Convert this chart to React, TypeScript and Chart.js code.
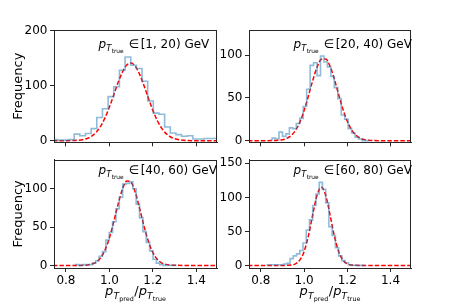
import React, { useEffect, useRef } from "react";
import { Chart, registerables } from "chart.js";

Chart.register(...registerables);

// ---------- data ----------
const X_MIN = 0.745;
const X_MAX = 1.495;
const xTickValues = [0.8, 1.0, 1.2, 1.4];

// sample positions of the Gaussian fit curves
const fitX = [0.74, 0.8, 0.85, 0.9, 0.92, 0.94, 0.96, 0.98, 1.0, 1.02, 1.04, 1.06, 1.08, 1.1,
  1.12, 1.14, 1.16, 1.18, 1.2, 1.22, 1.24, 1.26, 1.28, 1.3, 1.35, 1.4, 1.45, 1.5];

// panel 1: pT_true in [1, 20) GeV
const p1Range = "[1, 20) GeV";
const p1BinStart = 0.734;
const p1BinWidth = 0.026;
const p1Counts = [2, 1, 1, 2, 12, 9, 13, 22, 42, 58, 80, 98, 128, 152, 137, 131, 108, 72, 50, 48,
  25, 14, 11, 8, 9, 3, 3, 4, 4, 4];
const p1Fit = [0, 0.1, 0.6, 4.5, 8.7, 15.8, 26.6, 41.8, 61.1, 83.2, 105.6, 124.8, 137.4, 140.9,
  134.5, 119.6, 99.1, 76.4, 54.9, 36.7, 22.9, 13.3, 7.2, 3.6, 0.5, 0, 0, 0];
const p1YTicks = [0, 100, 200];
const p1YLim = [-2.9, 201];

// panel 2: pT_true in [20, 40) GeV
const p2Range = "[20, 40) GeV";
const p2BinStart = 0.852;
const p2BinWidth = 0.016;
const p2Counts = [3, 2, 10, 5, 8, 15, 14, 20, 26, 40, 60, 88, 91, 76, 99, 92, 86, 75, 62, 49,
  30, 25, 14, 9, 4, 2, 0, 0];
const p2Fit = [0, 0, 0.1, 1.1, 2.7, 6.0, 11.9, 21.4, 35.1, 52.2, 70.2, 85.8, 95.1, 95.5, 87.1,
  72.0, 54.0, 36.7, 22.6, 12.7, 6.4, 3.0, 1.2, 0.5, 0, 0, 0, 0];
const p2YTicks = [0, 50, 100];
const p2YLim = [-1.9, 129.3];

// panel 3: pT_true in [40, 60) GeV
const p3Range = "[40, 60) GeV";
const p3BinStart = 0.844;
const p3BinWidth = 0.0155;
const p3Counts = [1, 0, 1, 1, 1, 3, 6, 12, 18, 33, 43, 57, 74, 89, 106, 107, 109, 100, 80, 62,
  44, 30, 19, 8, 3, 1, 0, 0, 0, 0];
const p3Fit = [0, 0, 0, 0.6, 1.8, 4.5, 10.1, 20.2, 36.0, 57.0, 79.9, 99.6, 110.2, 108.2, 94.4,
  73.1, 50.3, 30.7, 16.6, 8.0, 3.4, 1.3, 0.4, 0.1, 0, 0, 0, 0];
const p3YTicks = [0, 50, 100];
const p3YLim = [-3.4, 137.9];

// panel 4: pT_true in [60, 80) GeV
const p4Range = "[60, 80) GeV";
const p4BinStart = 0.83;
const p4BinWidth = 0.015;
const p4Counts = [1, 1, 1, 1, 1, 2, 3, 10, 14, 17, 22, 33, 52, 67, 88, 105, 122, 112, 92, 57,
  44, 26, 14, 7, 4, 1, 0, 0, 0, 0];
const p4Fit = [0, 0, 0, 0, 0.1, 0.6, 2.3, 7.7, 20.4, 43.4, 74.6, 103.2, 115, 103.2, 74.6, 43.4,
  20.4, 7.7, 2.3, 0.6, 0.1, 0, 0, 0, 0, 0, 0, 0];
const p4YTicks = [0, 50, 100, 150];
const p4YLim = [-3.8, 155.4];

const yTitle = "Frequency";

// ---------- layout ----------
type Box = { left: number; top: number; right: number; bottom: number };
type PanelCfg = {
  range: string;
  binStart: number;
  binWidth: number;
  counts: number[];
  fit: number[];
  yTicks: number[];
  yLim: number[];
  canvas: { left: number; top: number; w: number; h: number };
  area: Box;
  showXLabels: boolean;
  showYTitle: boolean;
  textDy: number;
};

const panels: PanelCfg[] = [
  {
    range: p1Range, binStart: p1BinStart, binWidth: p1BinWidth, counts: p1Counts, fit: p1Fit,
    yTicks: p1YTicks, yLim: p1YLim,
    canvas: { left: 0, top: 0, w: 230, h: 152 },
    area: { left: 54, top: 30, right: 217, bottom: 143 },
    showXLabels: false, showYTitle: true, textDy: 18,
  },
  {
    range: p2Range, binStart: p2BinStart, binWidth: p2BinWidth, counts: p2Counts, fit: p2Fit,
    yTicks: p2YTicks, yLim: p2YLim,
    canvas: { left: 215, top: 0, w: 242, h: 152 },
    area: { left: 249, top: 30, right: 411, bottom: 143 },
    showXLabels: false, showYTitle: false, textDy: 18,
  },
  {
    range: p3Range, binStart: p3BinStart, binWidth: p3BinWidth, counts: p3Counts, fit: p3Fit,
    yTicks: p3YTicks, yLim: p3YLim,
    canvas: { left: 0, top: 150, w: 230, h: 155 },
    area: { left: 54, top: 159, right: 217, bottom: 268 },
    showXLabels: true, showYTitle: true, textDy: 14.5,
  },
  {
    range: p4Range, binStart: p4BinStart, binWidth: p4BinWidth, counts: p4Counts, fit: p4Fit,
    yTicks: p4YTicks, yLim: p4YLim,
    canvas: { left: 215, top: 150, w: 242, h: 155 },
    area: { left: 249, top: 159, right: 411, bottom: 268 },
    showXLabels: true, showYTitle: false, textDy: 14.5,
  },
];

const FONT = "'DejaVu Sans'";
const AXIS_COLOR = "#262626";

type Seg = { t: string; font: string; dy: number; dx: number };

function drawSegs(ctx: CanvasRenderingContext2D, x: number, y: number, segs: Seg[]) {
  let cx = x;
  for (const s of segs) {
    cx += s.dx;
    ctx.font = s.font;
    ctx.fillText(s.t, cx, y + s.dy);
    cx += ctx.measureText(s.t).width;
  }
  return cx;
}
function measureSegs(ctx: CanvasRenderingContext2D, segs: Seg[]) {
  let w = 0;
  for (const s of segs) {
    ctx.font = s.font;
    w += s.dx + ctx.measureText(s.t).width;
  }
  return w;
}

function Panel({ cfg }: { cfg: PanelCfg }) {
  const ref = useRef<HTMLCanvasElement>(null);
  useEffect(() => {
    if (!ref.current) return;
    const n = cfg.counts.length;
    const histPts: { x: number; y: number }[] = [{ x: cfg.binStart, y: 0 }];
    cfg.counts.forEach((c, i) => histPts.push({ x: cfg.binStart + i * cfg.binWidth, y: c }));
    histPts.push({ x: cfg.binStart + n * cfg.binWidth, y: cfg.counts[n - 1] });
    histPts.push({ x: cfg.binStart + n * cfg.binWidth, y: 0 });
    const fitPts = fitX.map((x, i) => ({ x, y: cfg.fit[i] }));

    const yAxisW = cfg.area.left - cfg.canvas.left;
    const padTop = cfg.area.top - cfg.canvas.top;
    const padRight = cfg.canvas.left + cfg.canvas.w - cfg.area.right;
    const xAxisH = cfg.canvas.top + cfg.canvas.h - cfg.area.bottom;

    const decor = {
      id: "decor",
      afterDraw(chart: any) {
        const ctx: CanvasRenderingContext2D = chart.ctx;
        const a = chart.chartArea;
        ctx.save();
        ctx.strokeStyle = AXIS_COLOR;
        ctx.lineWidth = 1;
        ctx.strokeRect(Math.round(a.left) + 0.5, Math.round(a.top) + 0.5,
          Math.round(a.right - a.left) - 1, Math.round(a.bottom - a.top));
        ctx.fillStyle = "#000";
        ctx.textBaseline = "alphabetic";
        ctx.textAlign = "left";
        const segs: Seg[] = [
          { t: "p", font: `italic 12px ${FONT}`, dy: 0, dx: 0 },
          { t: "T", font: `italic 8.4px ${FONT}`, dy: 2.7, dx: 0.2 },
          { t: "true", font: `5.9px ${FONT}`, dy: 4.5, dx: 0.2 },
          { t: "\u2208", font: `12px ${FONT}`, dy: 0, dx: 5 },
          { t: cfg.range, font: `12px ${FONT}`, dy: 0, dx: 1.5 },
        ];
        drawSegs(ctx, a.left + 44.5, a.top + cfg.textDy, segs);
        if (cfg.showYTitle) {
          ctx.save();
          ctx.translate(18.5, (a.top + a.bottom) / 2);
          ctx.rotate(-Math.PI / 2);
          ctx.font = `13px ${FONT}`;
          ctx.textAlign = "center";
          ctx.textBaseline = "middle";
          ctx.fillText(yTitle, 0, 0);
          ctx.restore();
        }
        if (cfg.showXLabels) {
          const xs: Seg[] = [
            { t: "p", font: `italic 13px ${FONT}`, dy: 0, dx: 0 },
            { t: "T", font: `italic 9.1px ${FONT}`, dy: 3.5, dx: 0.2 },
            { t: "pred", font: `6.4px ${FONT}`, dy: 5.5, dx: 0.2 },
            { t: "/", font: `13px ${FONT}`, dy: 0, dx: 0.5 },
            { t: "p", font: `italic 13px ${FONT}`, dy: 0, dx: 0 },
            { t: "T", font: `italic 9.1px ${FONT}`, dy: 3.5, dx: 0.2 },
            { t: "true", font: `6.4px ${FONT}`, dy: 5.5, dx: 0.2 },
          ];
          const w = measureSegs(ctx, xs);
          drawSegs(ctx, (a.left + a.right) / 2 - w / 2, 295 - cfg.canvas.top, xs);
        }
        ctx.restore();
      },
    };

    const chart = new Chart(ref.current, {
      type: "line",
      data: {
        datasets: [
          {
            data: histPts,
            borderColor: "rgba(31,119,180,0.5)",
            borderWidth: 1.6,
            stepped: true,
            pointRadius: 0,
            fill: false,
          },
          {
            data: fitPts,
            borderColor: "#ff0000",
            borderWidth: 1.5,
            borderDash: [4.5, 2],
            cubicInterpolationMode: "monotone",
            pointRadius: 0,
            fill: false,
          },
        ],
      } as any,
      options: {
        responsive: false,
        animation: false,
        devicePixelRatio: 1,
        layout: { padding: { left: 0, top: padTop, right: padRight, bottom: 0 } },
        plugins: { legend: { display: false }, tooltip: { enabled: false } },
        scales: {
          x: {
            type: "linear",
            min: X_MIN,
            max: X_MAX,
            afterBuildTicks: (s: any) => {
              s.ticks = xTickValues.map((v) => ({ value: v }));
            },
            afterFit: (s: any) => {
              s.height = xAxisH;
            },
            ticks: {
              autoSkip: false,
              maxRotation: 0,
              padding: 2,
              color: "#000",
              font: { family: FONT, size: 12 },
              callback: (v: any) => (cfg.showXLabels ? Number(v).toFixed(1) : ""),
            },
            grid: { drawOnChartArea: false, drawTicks: true, tickLength: 4, color: AXIS_COLOR },
            border: { display: true, color: AXIS_COLOR, width: 1 },
          },
          y: {
            type: "linear",
            min: cfg.yLim[0],
            max: cfg.yLim[1],
            afterBuildTicks: (s: any) => {
              s.ticks = cfg.yTicks.map((v) => ({ value: v }));
            },
            afterFit: (s: any) => {
              s.width = yAxisW;
            },
            ticks: {
              autoSkip: false,
              padding: 2.5,
              color: "#000",
              font: { family: FONT, size: 12 },
              callback: (v: any) => String(v),
            },
            grid: { drawOnChartArea: false, drawTicks: true, tickLength: 4, color: AXIS_COLOR },
            border: { display: true, color: AXIS_COLOR, width: 1 },
          },
        },
      } as any,
      plugins: [decor],
    });
    return () => chart.destroy();
  }, [cfg]);

  return (
    <canvas
      ref={ref}
      width={cfg.canvas.w}
      height={cfg.canvas.h}
      style={{
        position: "absolute",
        left: cfg.canvas.left,
        top: cfg.canvas.top,
        width: cfg.canvas.w,
        height: cfg.canvas.h,
      }}
    />
  );
}

export default function App() {
  return (
    <div
      style={{
        position: "fixed",
        left: 0,
        top: 0,
        width: 457,
        height: 305,
        background: "#fff",
        overflow: "hidden",
      }}
    >
      {panels.map((p, i) => (
        <Panel key={i} cfg={p} />
      ))}
    </div>
  );
}
